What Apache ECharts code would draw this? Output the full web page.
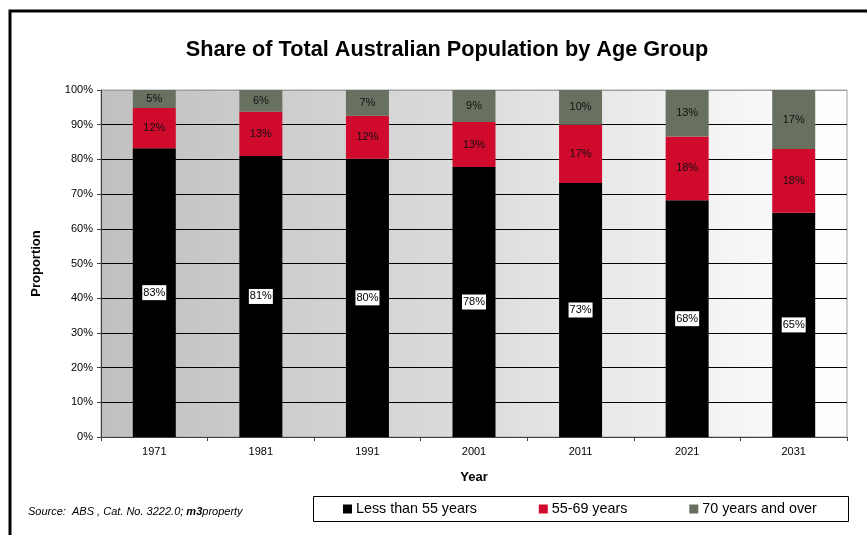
<!DOCTYPE html>
<html>
<head>
<meta charset="utf-8">
<script src="https://cdn.jsdelivr.net/npm/echarts@6/dist/echarts.min.js"></script>
<style>html,body{margin:0;padding:0;background:#fff}#c{width:867px;height:535px}</style>
</head>
<body>
<div id="c"></div>
<script>
var categories = ['1971','1981','1991','2001','2011','2021','2031'];
var under55 = [83.2, 81.0, 80.2, 77.8, 73.2, 68.2, 64.6];
var age55to69 = [11.6, 12.7, 12.4, 13.0, 16.8, 18.4, 18.4];
var age70plus = [5.2, 6.3, 7.4, 9.2, 10.0, 13.4, 17.0];
var seriesNames = ['Less than 55 years', '55-69 years', '70 years and over'];
var yTicks = [0,10,20,30,40,50,60,70,80,90,100];

var FONT = 'Liberation Sans, Arial, sans-serif';
var chart = echarts.init(document.getElementById('c'), null, {renderer:'canvas'});
function pct(p){ return Math.round(p.value) + '%'; }
var splitColors = yTicks.map(function(v){ return v === 100 ? '#a0a0a0' : '#000'; });

chart.setOption({
  backgroundColor: '#fff',
  animation: false,
  textStyle: {fontFamily: FONT},
  title: {
    text: 'Share of Total Australian Population by Age Group',
    left: 442, top: 34, textAlign: 'center',
    textStyle: {fontSize: 21.7, fontWeight: 'bold', color: '#000', fontFamily: FONT}
  },
  grid: {
    left: 101, right: 20, top: 90, bottom: 98,
    show: true, borderColor: '#a0a0a0', borderWidth: 1,
    backgroundColor: {type:'linear', x:0, y:0, x2:1, y2:0,
      colorStops:[{offset:0,color:'#c0c0c0'},{offset:0.5,color:'#dcdcdc'},{offset:0.85,color:'#f5f5f5'},{offset:1,color:'#ffffff'}]}
  },
  legend: {
    left: 343, top: 502, itemWidth: 9, itemHeight: 9, itemGap: 62,
    icon: 'rect', padding: 0,
    textStyle: {fontSize: 14.3, color: '#000', fontFamily: FONT, padding: [0,0,0,-1]},
    data: seriesNames
  },
  xAxis: {
    type: 'category', data: categories,
    name: 'Year', nameLocation: 'middle', nameGap: 34,
    nameTextStyle: {fontSize: 13, fontWeight: 'bold', color: '#000'},
    axisLine: {lineStyle: {color: '#404040', width: 1}},
    axisTick: {show: true, length: 4, lineStyle: {color: '#404040'}},
    axisLabel: {fontSize: 11, color: '#000', margin: 9}
  },
  yAxis: {
    type: 'value', min: 0, max: 100, interval: 10,
    name: 'Proportion', nameLocation: 'middle', nameGap: 58, nameRotate: 90,
    nameTextStyle: {fontSize: 13, fontWeight: 'bold', color: '#000'},
    axisLine: {show: true, lineStyle: {color: '#404040', width: 1}},
    axisTick: {show: true, length: 4, lineStyle: {color: '#404040'}},
    axisLabel: {fontSize: 11, color: '#000', formatter: '{value}%', margin: 8},
    splitLine: {show: true, lineStyle: {color: splitColors, width: 1}}
  },
  series: [
    {name: seriesNames[0], type: 'bar', stack: 's', data: under55, barWidth: 43,
     itemStyle: {color: '#000000'},
     label: {show: true, position: 'inside', formatter: pct, fontSize: 11, color: '#000',
       backgroundColor: '#fff', padding: [2,1,2,1]}},
    {name: seriesNames[1], type: 'bar', stack: 's', data: age55to69, barWidth: 43,
     itemStyle: {color: '#D00A2C'},
     label: {show: true, position: 'inside', formatter: pct, fontSize: 11, color: '#111'}},
    {name: seriesNames[2], type: 'bar', stack: 's', data: age70plus, barWidth: 43,
     itemStyle: {color: '#687060'},
     label: {show: true, position: 'inside', formatter: pct, fontSize: 11, color: '#111'}}
  ],
  graphic: [
    {type: 'polyline', shape: {points: [[10,535],[10,11],[867,11]]}, style: {stroke: '#000', lineWidth: 3, fill: null}, z: 10},
    {type: 'rect', shape: {x: 313.5, y: 496.5, width: 535, height: 25}, style: {fill: '#fff', stroke: '#000', lineWidth: 1}, z: -1},
    {type: 'text', left: 28, top: 506, z: 10,
     style: {text: '{i|Source:  ABS , Cat. No. 3222.0; }{b|m3}{i|property}',
       rich: {i: {fontSize: 11, fontStyle: 'italic', fontFamily: FONT, fill: '#000'},
              b: {fontSize: 11, fontStyle: 'italic', fontWeight: 'bold', fontFamily: FONT, fill: '#000'}}}}
  ]
});
</script>
</body>
</html>
